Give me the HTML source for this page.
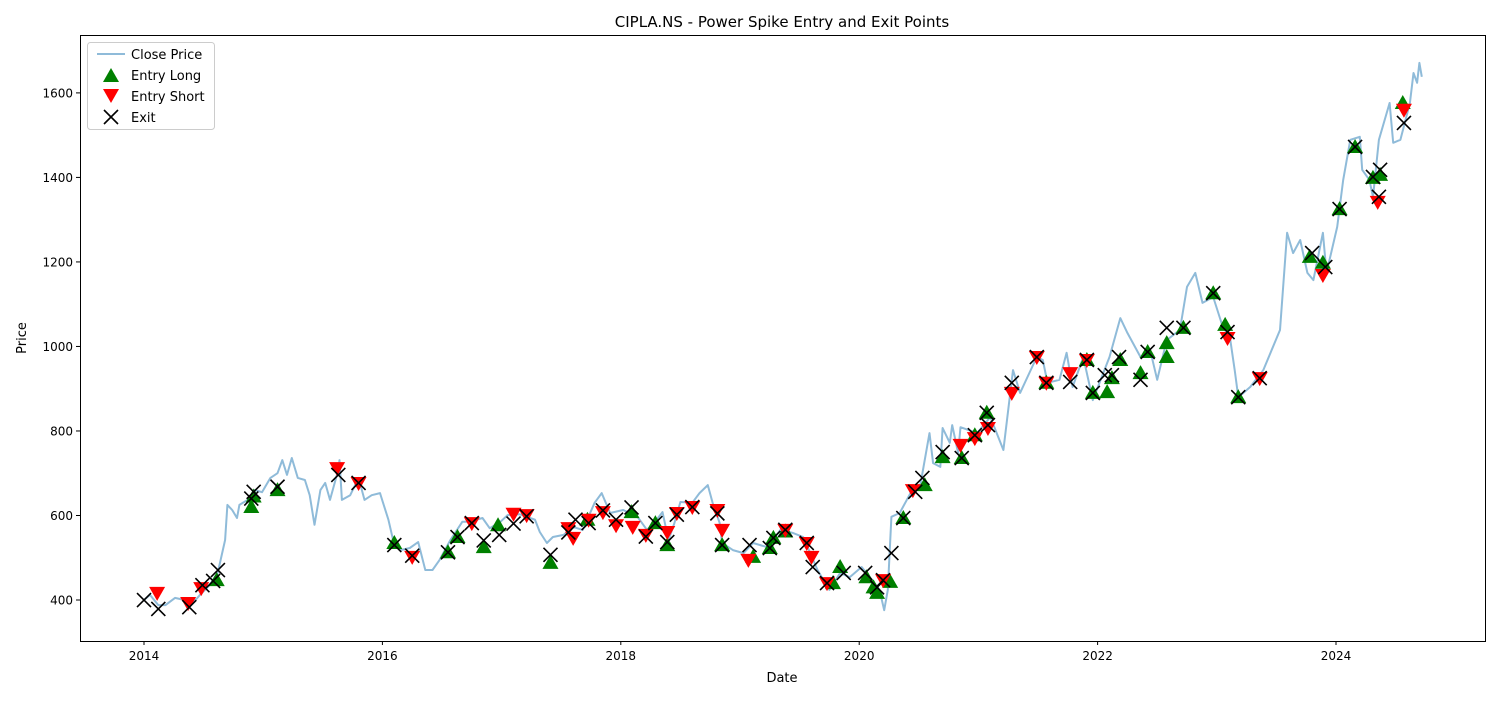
<!DOCTYPE html>
<html><head><meta charset="utf-8"><style>
body{margin:0;background:#fff;}
svg text{font-family:"DejaVu Sans","Liberation Sans",sans-serif;}
</style></head><body>
<svg id="chart" width="1500" height="700" xmlns="http://www.w3.org/2000/svg">
<rect width="1500" height="700" fill="#fff"/>
<text x="782" y="27" font-size="15" text-anchor="middle">CIPLA.NS - Power Spike Entry and Exit Points</text>
<g id="plot"></g>
<rect x="80.5" y="35.5" width="1405" height="606" fill="none" stroke="#000" stroke-width="1"/>
<g id="axes"></g>
<text x="782" y="682" font-size="13" text-anchor="middle">Date</text>
<text transform="translate(26,338) rotate(-90)" font-size="13" text-anchor="middle">Price</text>
<g id="legend">
<rect x="87.5" y="42.5" width="127" height="87" fill="#fff" fill-opacity="0.8" stroke="#ccc" rx="3"/>
<line x1="97" y1="54" x2="125" y2="54" stroke="#1f77b4" stroke-opacity="0.5" stroke-width="2"/>
<text x="131" y="59" font-size="13">Close Price</text>
<polygon points="111,68 119,82 103,82" fill="green"/>
<text x="131" y="80" font-size="13">Entry Long</text>
<polygon points="103,89 119,89 111,103" fill="red"/>
<text x="131" y="101" font-size="13">Entry Short</text>
<path d="M104,110 L118,124 M118,110 L104,124" stroke="#000" stroke-width="1.6"/>
<text x="131" y="122" font-size="13">Exit</text>
</g>
</svg>
<script>
const priceDates=[2014.0,2014.05,2014.12,2014.18,2014.26,2014.34,2014.39,2014.47,2014.55,2014.62,2014.68,2014.7,2014.74,2014.78,2014.8,2014.87,2014.93,2014.99,2015.06,2015.12,2015.16,2015.2,2015.24,2015.29,2015.35,2015.39,2015.43,2015.48,2015.52,2015.56,2015.63,2015.64,2015.66,2015.73,2015.8,2015.85,2015.91,2015.98,2016.05,2016.09,2016.15,2016.23,2016.3,2016.36,2016.42,2016.48,2016.57,2016.67,2016.73,2016.84,2016.9,2016.99,2017.05,2017.15,2017.28,2017.32,2017.38,2017.43,2017.52,2017.6,2017.68,2017.78,2017.84,2017.91,2018.02,2018.14,2018.22,2018.3,2018.35,2018.4,2018.45,2018.5,2018.6,2018.66,2018.73,2018.77,2018.83,2018.85,2018.94,2019.03,2019.11,2019.23,2019.34,2019.44,2019.53,2019.59,2019.65,2019.75,2019.84,2019.92,2020.02,2020.09,2020.17,2020.21,2020.24,2020.27,2020.34,2020.43,2020.51,2020.59,2020.62,2020.68,2020.7,2020.76,2020.78,2020.83,2020.85,2020.99,2021.1,2021.21,2021.29,2021.35,2021.49,2021.54,2021.58,2021.68,2021.74,2021.79,2021.88,2021.96,2022.1,2022.19,2022.25,2022.36,2022.44,2022.5,2022.58,2022.69,2022.75,2022.82,2022.88,2022.97,2023.05,2023.11,2023.15,2023.18,2023.28,2023.39,2023.53,2023.59,2023.64,2023.7,2023.76,2023.81,2023.89,2023.92,2024.01,2024.06,2024.12,2024.2,2024.22,2024.28,2024.31,2024.36,2024.45,2024.48,2024.54,2024.62,2024.65,2024.68,2024.7,2024.72];
const priceValues=[400,412,388,388,405,400,386,412,435,466,542,625,613,594,625,637,660,655,689,700,731,696,736,689,684,648,578,660,677,637,708,731,637,648,689,637,648,653,590,542,518,523,537,471,471,495,542,585,585,594,570,585,601,603,590,561,535,549,554,573,566,630,653,606,613,597,566,590,608,542,582,632,630,653,672,630,582,535,518,511,535,525,566,559,549,511,471,424,464,454,478,454,424,376,424,597,606,653,668,795,724,715,807,772,814,748,809,795,833,755,944,890,975,968,914,921,985,904,975,873,975,1067,1032,975,992,921,1015,1039,1141,1174,1103,1117,1046,1022,944,880,904,944,1039,1269,1221,1252,1174,1157,1269,1174,1283,1394,1489,1496,1418,1394,1354,1489,1576,1482,1489,1576,1647,1624,1671,1638];
const longDates=[2014.61,2014.9,2014.92,2015.12,2016.1,2016.55,2016.63,2016.85,2016.97,2017.41,2017.72,2018.09,2018.29,2018.39,2018.85,2019.11,2019.25,2019.28,2019.38,2019.78,2019.84,2020.06,2020.12,2020.15,2020.26,2020.37,2020.55,2020.7,2020.86,2020.97,2021.07,2021.57,2021.91,2021.96,2022.08,2022.12,2022.19,2022.36,2022.42,2022.58,2022.58,2022.72,2022.97,2023.07,2023.18,2023.78,2023.89,2024.03,2024.16,2024.31,2024.37,2024.56];
const longValues=[447,620,645,660,535,513,549,525,577,488,590,608,582,530,530,502,523,547,562,440,478,454,430,417,443,594,672,738,736,790,843,914,968,890,892,925,968,937,987,975,1008,1044,1126,1051,880,1212,1198,1325,1472,1399,1406,1576];
const shortDates=[2014.11,2014.37,2014.48,2015.62,2015.8,2016.25,2016.75,2017.1,2017.21,2017.56,2017.6,2017.73,2017.85,2017.96,2018.1,2018.21,2018.39,2018.47,2018.6,2018.81,2018.85,2019.07,2019.38,2019.56,2019.6,2019.73,2020.2,2020.45,2020.85,2020.97,2021.08,2021.28,2021.49,2021.57,2021.77,2021.91,2023.09,2023.36,2023.89,2024.35,2024.57];
const shortValues=[417,393,428,712,677,502,582,604,601,570,547,590,608,577,573,554,561,606,620,613,566,495,566,535,502,440,447,660,767,783,807,890,975,914,937,968,1020,925,1169,1342,1560];
const exitDates=[2014.0,2014.12,2014.38,2014.49,2014.58,2014.62,2014.9,2014.92,2015.12,2015.63,2015.8,2016.1,2016.25,2016.55,2016.63,2016.75,2016.85,2016.98,2017.1,2017.21,2017.41,2017.56,2017.62,2017.73,2017.85,2017.96,2018.09,2018.21,2018.29,2018.39,2018.47,2018.6,2018.81,2018.85,2019.08,2019.25,2019.28,2019.38,2019.56,2019.61,2019.73,2019.87,2020.05,2020.15,2020.2,2020.27,2020.37,2020.47,2020.53,2020.7,2020.86,2020.97,2021.07,2021.08,2021.28,2021.49,2021.57,2021.77,2021.91,2021.96,2022.06,2022.12,2022.18,2022.36,2022.42,2022.58,2022.72,2022.97,2023.09,2023.18,2023.36,2023.8,2023.91,2024.03,2024.16,2024.31,2024.37,2024.36,2024.57];
const exitValues=[400,379,383,435,445,471,640,656,668,696,677,530,505,513,549,582,541,554,581,598,507,560,590,582,612,590,619,550,582,537,602,620,605,530,530,523,547,566,535,478,440,464,464,430,447,511,594,656,689,750,736,790,843,814,914,975,914,916,968,890,932,932,975,921,987,1044,1044,1126,1034,880,925,1221,1188,1325,1472,1401,1418,1354,1529];
const yTicks=[400,600,800,1000,1200,1400,1600];
const xTicks=[2014,2016,2018,2020,2022,2024];

const NS='http://www.w3.org/2000/svg';
const X0=80,X1=1485,Y0=35,Y1=641;
const xMin=2013.463,xMax=2025.25,yMin=303,yMax=1737;
const sx=v=>X0+(v-xMin)/(xMax-xMin)*(X1-X0);
const sy=v=>Y1-(v-yMin)/(yMax-yMin)*(Y1-Y0);
function mk(tag,attrs,parent){const e=document.createElementNS(NS,tag);for(const k in attrs)e.setAttribute(k,attrs[k]);parent.appendChild(e);return e;}
const plot=document.getElementById('plot'),axes=document.getElementById('axes');

let d='';priceDates.forEach((t,i)=>{d+=(i?'L':'M')+sx(t).toFixed(1)+','+sy(priceValues[i]).toFixed(1);});
const line=mk('path',{d:d,fill:'none',stroke:'#1f77b4','stroke-opacity':0.5,'stroke-width':2,'stroke-linejoin':'round'},plot);



longDates.forEach((t,i)=>{const x=sx(t),y=sy(longValues[i]);
const p=mk('polygon',{points:`${x},${y-8} ${x+8},${y+6} ${x-8},${y+6}`,fill:'green'},plot);

});
shortDates.forEach((t,i)=>{const x=sx(t),y=sy(shortValues[i]);
const p=mk('polygon',{points:`${x-8},${y-6} ${x+8},${y-6} ${x},${y+8}`,fill:'red'},plot);

});
exitDates.forEach((t,i)=>{const x=sx(t),y=sy(exitValues[i]);
const p=mk('path',{d:`M${x-7},${y-7}L${x+7},${y+7}M${x+7},${y-7}L${x-7},${y+7}`,stroke:'#000','stroke-width':1.6},plot);

});

yTicks.forEach(v=>{const y=sy(v);
mk('line',{x1:X0-4,x2:X0,y1:y,y2:y,stroke:'#000'},axes);
const t=mk('text',{x:X0-7,y:y+4.5,'font-size':12,'text-anchor':'end'},axes);t.textContent=v;

});
xTicks.forEach(v=>{const x=sx(v);
mk('line',{x1:x,x2:x,y1:Y1,y2:Y1+4,stroke:'#000'},axes);
const t=mk('text',{x:x,y:Y1+19,'font-size':12,'text-anchor':'middle'},axes);t.textContent=v;

});
</script>
</body></html>
